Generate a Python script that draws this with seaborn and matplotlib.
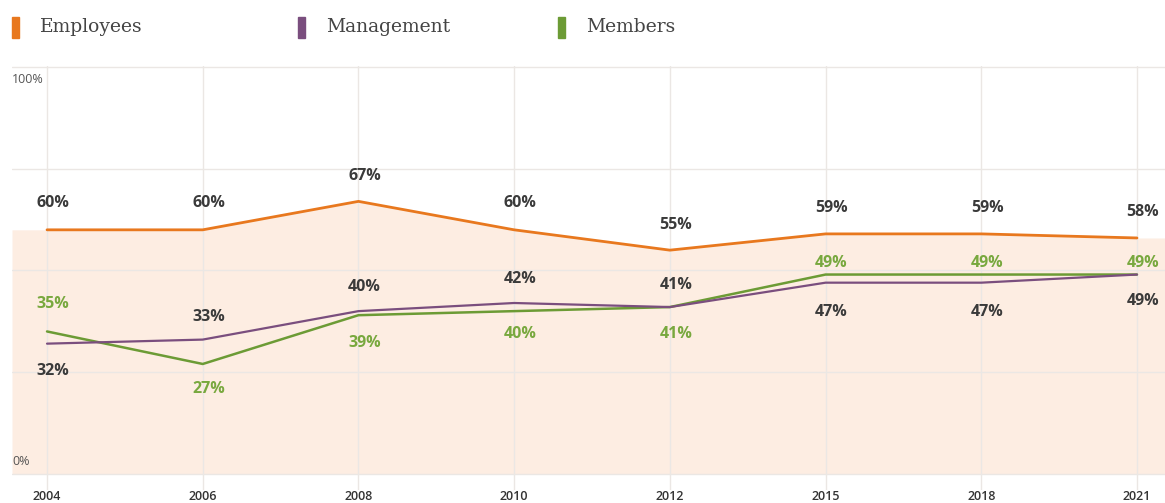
import matplotlib.pyplot as plt
import numpy as np
import pandas as pd
import seaborn as sns
from matplotlib.patches import Rectangle

years = ['2004', '2006', '2008', '2010', '2012', '2015', '2018', '2021']
employees = [60, 60, 67, 60, 55, 59, 59, 58]
management = [32, 33, 40, 42, 41, 47, 47, 49]
members = [35, 27, 39, 40, 41, 49, 49, 49]

series_names = ['Employees', 'Management', 'Members']
colors = {'Employees': '#E8781E', 'Management': '#7A4E7E', 'Members': '#6C9B35'}
label_colors = {'Employees': '#3a3a3a', 'Management': '#3a3a3a', 'Members': '#78A83E'}
fill_color = '#FDEDE2'

# label offsets in pixels (negative = above the line)
label_dy = {
    'Employees': [-27, -27, -25, -27, -25, -26, -26, -26],
    'Management': [27, -23, -24, -24, -22, 29, 29, 26],
    'Members': [-27, 25, 28, 23, 27, -12, -12, -12],
}

df = pd.DataFrame({
    'pos': list(range(len(years))) * 3,
    'value': employees + management + members,
    'series': [s for s in series_names for _ in years],
})

sns.set_theme(style='white')
plt.rcParams['font.family'] = ['Open Sans', 'DejaVu Sans']

fig = plt.figure(figsize=(11.65, 5.03), dpi=100)
ax = fig.add_axes([12 / 1165, 1 - 490 / 503, 1 - 12 / 1165, (490 - 66) / 503])

xmin, xmax = -0.225, 7.18
idx = np.arange(len(years))
ext_x = np.concatenate([[xmin], idx, [xmax]])
ext_emp = np.concatenate([[employees[0]], employees, [employees[-1]]])
ax.fill_between(ext_x, 0, ext_emp, color=fill_color, lw=0, zorder=0.2)

widths = {'Employees': 2.0, 'Management': 1.6, 'Members': 1.8}
for name in ['Employees', 'Members', 'Management']:
    sub = df[df['series'] == name]
    sns.lineplot(data=sub, x='pos', y='value', color=colors[name],
                 lw=widths[name], ax=ax, legend=False, zorder=3)

for name, vals in zip(series_names, [employees, management, members]):
    for i, v in enumerate(vals):
        ax.annotate(f'{v}%', (i, v), xytext=(6, -label_dy[name][i]),
                    textcoords='offset pixels', ha='center', va='center',
                    fontsize=11.5, fontweight='bold', color=label_colors[name],
                    zorder=5)

ax.set_xlim(xmin, xmax)
ax.set_ylim(-4, 100.3)
ax.set_yticks([0, 25, 50, 75, 100])
ax.set_yticklabels([])
ax.set_xticks(idx)
ax.set_xticklabels(years, fontsize=9, fontweight='semibold', color='#333333')
ax.tick_params(axis='x', length=0, pad=0)
ax.tick_params(axis='y', length=0)
ax.grid(True, color='#ebe7e4', lw=1)
ax.set_axisbelow(True)
for sp in ax.spines.values():
    sp.set_visible(False)
ax.set_xlabel('')
ax.set_ylabel('')

ax.text(0, 98.5, '100%', transform=ax.get_yaxis_transform(), ha='left', va='top',
        fontsize=9, color='#555555')
ax.text(0, 1.5, '0%', transform=ax.get_yaxis_transform(), ha='left', va='bottom',
        fontsize=9, color='#555555', zorder=4)

# legend across the top
legend_x = [12, 298, 558]
for name, lx in zip(series_names, legend_x):
    fig.patches.append(Rectangle((lx / 1165, 1 - 38 / 503), 7 / 1165, 21 / 503,
                                 transform=fig.transFigure, color=colors[name]))
    fig.text((lx + 28) / 1165, 1 - 27 / 503, name, family='DejaVu Serif',
             fontsize=13.5, color='#444444', va='center', ha='left')

fig.savefig('out.png', dpi=100)
